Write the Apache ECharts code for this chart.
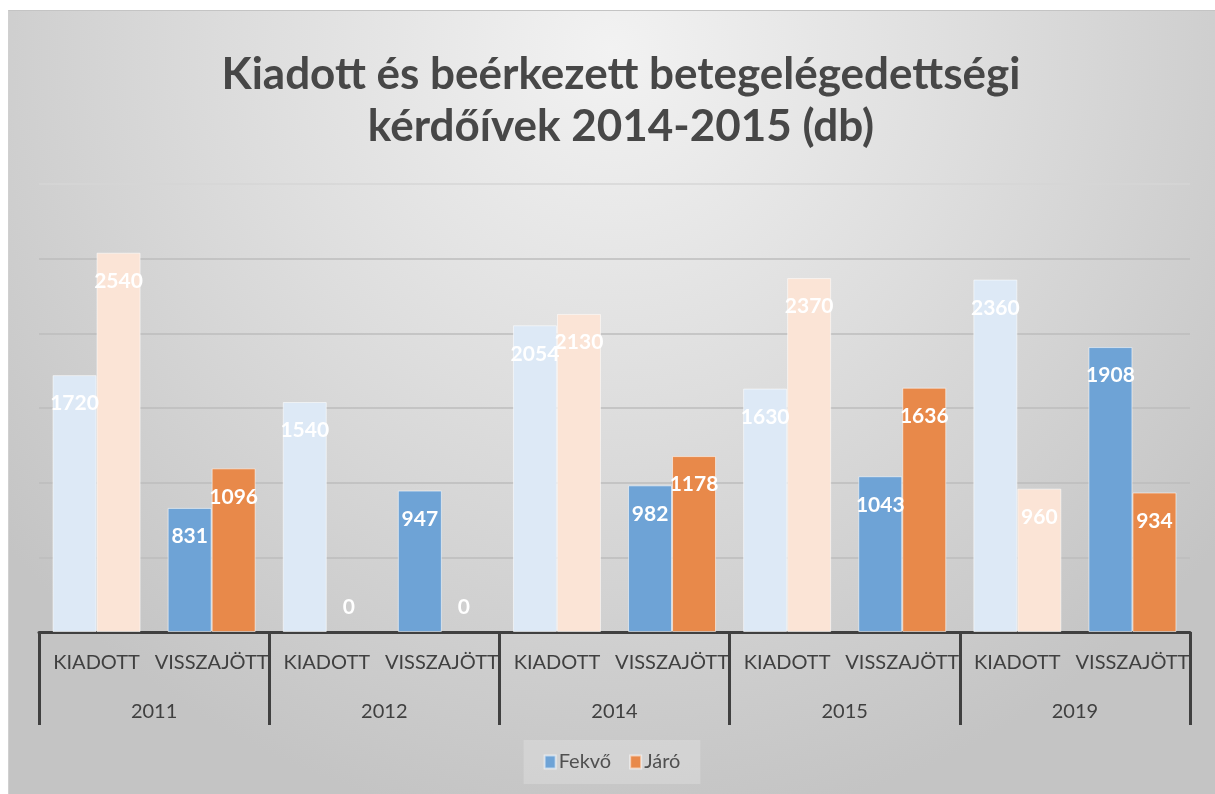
<!DOCTYPE html>
<html>
<head>
<meta charset="utf-8">
<script src="https://cdn.jsdelivr.net/npm/echarts@6/dist/echarts.min.js"></script>
<style>
  html, body { margin: 0; padding: 0; background: #fff; }
  #chart { position: absolute; left: 8px; top: 10px; width: 1207px; height: 784px;
           border-top: 1px solid #c4c4c4; border-left: 1px solid #d0d0d0; box-sizing: border-box; }
</style>
</head>
<body>
<div id="chart"></div>
<script>
const years = ['2011', '2012', '2014', '2015', '2019']
const kinds = ['KIADOTT', 'VISSZAJÖTT']
const subCategories = years.flatMap(() => kinds)
const fekvo = [1720, 831, 1540, 947, 2054, 982, 1630, 1043, 2360, 1908]
const jaro = [2540, 1096, 0, 0, 2130, 1178, 2370, 1636, 960, 934]

const paleBlue = '#dde9f6'
const paleOrange = '#fbe4d6'
const blue = '#6ea3d6'
const orange = '#e8894a'

// KIADOTT bars are pale, VISSZAJÖTT bars solid
const toItems = (values, pale, solid) => values.map((v, i) => {
    const item = {
        value: v,
        itemStyle: { color: i % 2 === 0 ? pale : solid }
    }
    if (v === 0) {
        // empty bar: no outline, label sits just above the axis
        item.itemStyle.borderWidth = 0
        item.label = { position: 'top', distance: 14 }
    }
    return item
})

const chart = echarts.init(document.getElementById('chart'))
const textColor = '#404040'

const option = {
    backgroundColor: {
        type: 'radial', x: 0.5, y: 0.05, r: 1.0,
        colorStops: [
            { offset: 0, color: '#f2f2f2' },
            { offset: 0.45, color: '#dedede' },
            { offset: 1, color: '#c4c4c4' }
        ]
    },
    textStyle: { fontFamily: 'Lato, sans-serif' },
    title: {
        text: 'Kiadott és beérkezett betegelégedettségi\nkérdőívek 2014-2015 (db)',
        left: 607,
        top: 33,
        textAlign: 'center',
        textStyle: {
            fontSize: 44,
            fontWeight: 'bold',
            color: '#474747',
            lineHeight: 52,
            fontFamily: 'Lato, sans-serif'
        }
    },
    legend: {
        data: ['Fekvő', 'Járó'],
        bottom: 10,
        left: 'center',
        padding: [12, 20],
        backgroundColor: 'rgba(255,255,255,0.2)',
        itemWidth: 11,
        itemHeight: 13,
        itemGap: 18,
        icon: 'rect',
        textStyle: { fontSize: 20, color: '#505050', padding: [0, 0, 0, -2] }
    },
    grid: { left: 30, right: 25, top: 173, bottom: 162 },
    xAxis: [
        {
            type: 'category',
            data: subCategories,
            axisLine: { lineStyle: { color: textColor, width: 3 } },
            axisTick: { show: false },
            axisLabel: { color: textColor, fontSize: 20, margin: 21, interval: 0 }
        },
        {
            type: 'category',
            data: years,
            position: 'bottom',
            axisLine: { show: false },
            axisTick: { show: true, length: 93, lineStyle: { color: textColor, width: 3 } },
            axisLabel: { color: textColor, fontSize: 20, margin: 70 }
        }
    ],
    yAxis: {
        type: 'value',
        min: 0,
        max: 3000,
        interval: 500,
        axisLabel: { show: false },
        axisLine: { show: false },
        axisTick: { show: false },
        splitLine: {
            lineStyle: {
                color: ['#bcbcbc', '#bcbcbc', '#bcbcbc', '#bcbcbc', '#bcbcbc', '#bcbcbc', '#d6d6d6'],
                width: 1.5
            }
        }
    },
    series: [
        {
            name: 'Fekvő',
            type: 'bar',
            xAxisIndex: 0,
            barWidth: 44,
            barGap: '0%',
            data: toItems(fekvo, paleBlue, blue),
            itemStyle: { color: blue, borderColor: 'rgba(255,255,255,0.55)', borderWidth: 1 },
            label: {
                show: true, position: 'insideTop', distance: 18,
                color: '#fff', fontSize: 21, fontWeight: 'bold'
            }
        },
        {
            name: 'Járó',
            type: 'bar',
            xAxisIndex: 0,
            barWidth: 44,
            data: toItems(jaro, paleOrange, orange),
            itemStyle: { color: orange, borderColor: 'rgba(255,255,255,0.55)', borderWidth: 1 },
            label: {
                show: true, position: 'insideTop', distance: 18,
                color: '#fff', fontSize: 21, fontWeight: 'bold'
            }
        }
    ]
}

chart.setOption(option)
</script>
</body>
</html>
